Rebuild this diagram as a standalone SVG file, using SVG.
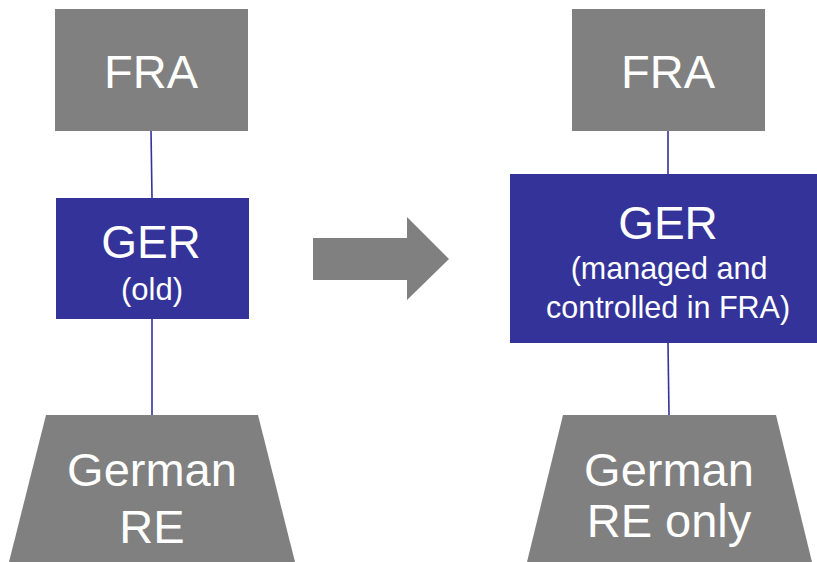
<svg xmlns="http://www.w3.org/2000/svg" width="817" height="562" viewBox="0 0 817 562">
<style>
.g{fill:#808080}
.b{fill:#333399}
.t{font-family:"Liberation Sans",Arial,sans-serif;fill:#ffffff;text-anchor:middle}
.l{stroke:#333399;stroke-width:1.6;fill:none}
</style>
<rect width="817" height="562" fill="#ffffff"/>
<g id="connectors">
<line class="l" x1="151" y1="130" x2="152" y2="198"/>
<line class="l" x1="152" y1="319" x2="152" y2="415"/>
<line class="l" x1="668" y1="130" x2="668" y2="174"/>
<line class="l" x1="668" y1="343" x2="669" y2="415"/>
</g>
<g id="fra-left">
<rect class="g" x="55" y="9" width="193" height="122"/>
<text class="t" x="151" y="88" font-size="47">FRA</text>
</g>
<g id="ger-left">
<rect class="b" x="56" y="198" width="193" height="121"/>
<text class="t" x="151" y="258" font-size="46">GER</text>
<text class="t" x="152" y="300" font-size="31">(old)</text>
</g>
<g id="re-left">
<polygon class="g" points="46,415 258,415 295,562 9,562"/>
<text class="t" x="152" y="486" font-size="47">German</text>
<text class="t" x="152" y="543" font-size="47">RE</text>
</g>
<g id="arrow">
<polygon class="g" points="313,238 407,238 407,217 449,259 407,300 407,280 313,280"/>
</g>
<g id="fra-right">
<rect class="g" x="572" y="9" width="193" height="122"/>
<text class="t" x="668" y="88" font-size="47">FRA</text>
</g>
<g id="ger-right">
<rect class="b" x="510" y="174" width="307" height="169"/>
<text class="t" x="668" y="239" font-size="46">GER</text>
<text class="t" x="669" y="279" font-size="30.5">(managed and</text>
<text class="t" x="668" y="318" font-size="30.5">controlled in FRA)</text>
</g>
<g id="re-right">
<polygon class="g" points="563,415 776,415 812,562 527,562"/>
<text class="t" x="669" y="486" font-size="47">German</text>
<text class="t" x="669" y="537" font-size="47">RE only</text>
</g>
</svg>
